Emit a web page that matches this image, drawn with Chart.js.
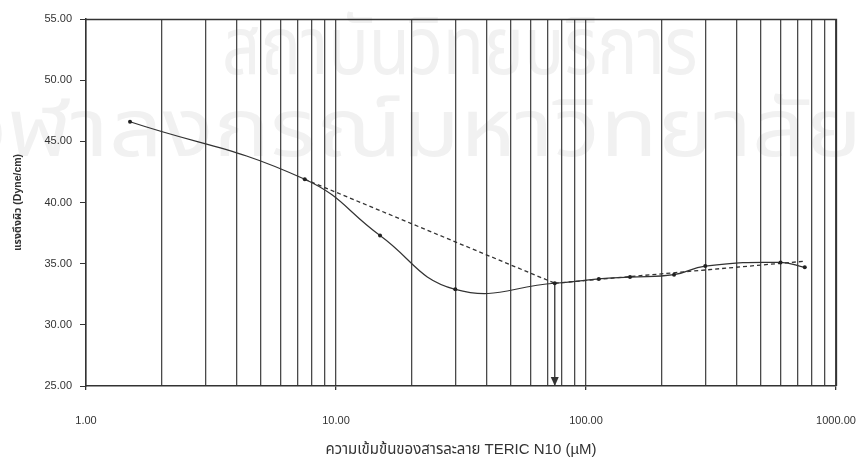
<!DOCTYPE html>
<html>
<head>
<meta charset="utf-8">
<script src="https://cdn.jsdelivr.net/npm/chart.js@4/dist/chart.umd.min.js"></script>
<style>
  html, body { margin: 0; padding: 0; background: #ffffff; }
  #wrap { width: 860px; height: 460px; position: relative; }
  canvas { display: block; }
</style>
</head>
<body>
<div id="wrap"><canvas id="c" width="860" height="460"></canvas></div>
<script>
// Surface tension of TERIC N10 solutions versus concentration (µM)
const concentrations = [1.5, 7.5, 15, 30, 75, 112.5, 150, 225, 300, 600, 750];
const surfaceTension = [46.6, 41.9, 37.3, 32.9, 33.4, 33.75, 33.9, 34.1, 34.8, 35.1, 34.7];

// Tangent construction lines used to locate the CMC
const steepLineX = [7.5, 75];
const steepLineY = [41.9, 33.4];
const plateauLineX = [75, 750];
const plateauLineY = [33.4, 35.2];
const cmcX = [75, 75];
const cmcY = [33.4, 25];

// Axis ticks
const xGridValues = [1, 2, 3, 4, 5, 6, 7, 8, 9, 10, 20, 30, 40, 50, 60, 70, 80, 90,
                     100, 200, 300, 400, 500, 600, 700, 800, 900, 1000];
const xLabelValues = [1, 10, 100, 1000];
const yTickValues = [25, 30, 35, 40, 45, 50, 55];

const pts = (xs, ys) => xs.map((x, i) => ({ x: x, y: ys[i] }));

const FONT = "'Liberation Sans', Arial, sans-serif";
const THAI = "'Liberation Sans', 'Noto Sans Thai', 'Loma', 'Garuda', sans-serif";
const INK = '#333333';
const GRID = '#4a4a4a';

// Faint watermark behind the plot
const watermark = {
  id: 'watermark',
  beforeDraw(chart) {
    const ctx = chart.ctx;
    ctx.save();
    ctx.fillStyle = '#f1f1f1';
    ctx.textBaseline = 'middle';
    ctx.font = '80px ' + THAI;
    ctx.textAlign = 'left';
    ctx.save();
    ctx.translate(222, 52);
    ctx.scale(0.84, 1);
    ctx.fillText('สถาบันวิทยบริการ', 0, 0);
    ctx.restore();
    ctx.textAlign = 'right';
    ctx.save();
    ctx.translate(862, 134);
    ctx.scale(1.18, 1);
    ctx.fillText('จุฬาลงกรณ์มหาวิทยาลัย', 0, 0);
    ctx.restore();
    ctx.restore();
  }
};

// Top and right edges of the plot frame
const frame = {
  id: 'frame',
  afterDatasetsDraw(chart) {
    const a = chart.chartArea, ctx = chart.ctx;
    ctx.save();
    ctx.strokeStyle = INK;
    ctx.lineWidth = 1.3;
    ctx.beginPath();
    ctx.moveTo(a.left, a.top + 0.5);
    ctx.lineTo(a.right + 0.5, a.top + 0.5);
    ctx.lineTo(a.right + 0.5, a.bottom);
    ctx.stroke();
    ctx.restore();
  }
};

// Arrow head at the foot of the CMC drop line
const arrowHead = {
  id: 'arrowHead',
  afterDatasetsDraw(chart) {
    const xs = chart.scales.x, ys = chart.scales.y, ctx = chart.ctx;
    const px = xs.getPixelForValue(cmcX[1]);
    const py = ys.getPixelForValue(cmcY[1]);
    ctx.save();
    ctx.fillStyle = INK;
    ctx.beginPath();
    ctx.moveTo(px, py);
    ctx.lineTo(px - 4, py - 9);
    ctx.lineTo(px + 4, py - 9);
    ctx.closePath();
    ctx.fill();
    ctx.restore();
  }
};

new Chart(document.getElementById('c'), {
  type: 'line',
  data: {
    datasets: [
      {
        data: pts(concentrations, surfaceTension),
        borderColor: INK,
        borderWidth: 1.2,
        tension: 0.45,
        pointRadius: 2,
        pointBackgroundColor: '#222',
        pointBorderColor: '#222',
        pointBorderWidth: 0
      },
      {
        data: pts(steepLineX, steepLineY),
        borderColor: INK,
        borderWidth: 1.3,
        borderDash: [4, 3],
        pointRadius: 0
      },
      {
        data: pts(plateauLineX, plateauLineY),
        borderColor: INK,
        borderWidth: 1.3,
        borderDash: [4, 3],
        pointRadius: 0
      },
      {
        data: pts(cmcX, cmcY),
        borderColor: INK,
        borderWidth: 1.3,
        pointRadius: 0
      }
    ]
  },
  plugins: [watermark, frame, arrowHead],
  options: {
    responsive: false,
    maintainAspectRatio: false,
    animation: false,
    devicePixelRatio: 1,
    layout: { padding: { top: 19, right: 24, left: 0, bottom: 0 } },
    plugins: { legend: { display: false }, tooltip: { enabled: false } },
    scales: {
      x: {
        type: 'logarithmic',
        min: 1,
        max: 1000,
        afterBuildTicks(scale) {
          scale.ticks = xGridValues.map(v => ({ value: v, major: xLabelValues.includes(v) }));
        },
        afterFit(scale) {
          scale.height = 74;
          scale.paddingRight = 0;
          scale.paddingLeft = 0;
        },
        ticks: {
          autoSkip: false,
          maxRotation: 0,
          padding: 24,
          color: INK,
          font: { family: FONT, size: 11 },
          callback: (v) => xLabelValues.includes(v) ? v.toFixed(2) : ''
        },
        grid: {
          color: GRID,
          lineWidth: 1.3,
          tickLength: 4,
          tickColor: (c) => (c.tick && xLabelValues.includes(c.tick.value)) ? INK : 'rgba(0,0,0,0)'
        },
        border: { display: true, color: INK, width: 1.5 },
        title: {
          display: true,
          text: 'ความเข้มข้นของสารละลาย TERIC N10 (µM)',
          color: INK,
          font: { family: THAI, size: 15 },
          padding: { top: 0, bottom: 1 }
        }
      },
      y: {
        min: 25,
        max: 55,
        afterBuildTicks(scale) {
          scale.ticks = yTickValues.map(v => ({ value: v }));
        },
        afterFit(scale) { scale.width = 86; },
        ticks: {
          padding: 8,
          color: INK,
          font: { family: FONT, size: 11 },
          callback: (v) => Number(v).toFixed(2)
        },
        grid: { drawOnChartArea: false, tickLength: 6, tickColor: INK },
        border: { display: true, color: INK, width: 1.5 },
        title: {
          display: true,
          text: 'แรงตึงผิว (Dyne/cm)',
          color: INK,
          font: { family: THAI, size: 10.5, weight: 'bold' },
          padding: { top: 12, bottom: 0 }
        }
      }
    }
  }
});
</script>
</body>
</html>
